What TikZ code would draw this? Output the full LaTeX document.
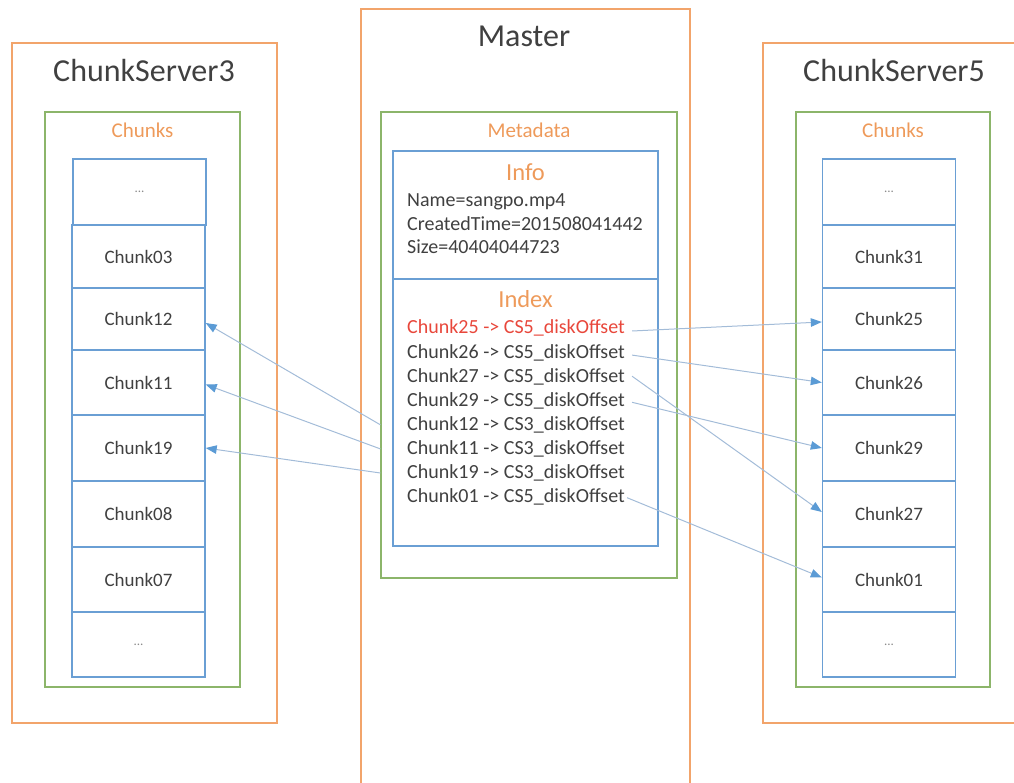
\documentclass[tikz,border=0pt]{standalone}
\usepackage{fontspec}
\setmainfont{Carlito}
\usetikzlibrary{arrows.meta,calc}
\definecolor{orangeLine}{HTML}{F2A46B}
\definecolor{greenLine}{HTML}{8CB56A}
\definecolor{blueLine}{HTML}{6A9FD4}
\definecolor{labelOrange}{HTML}{EE9A5A}
\definecolor{textDark}{HTML}{404040}
\definecolor{redText}{HTML}{E8473B}
\definecolor{arrowLine}{HTML}{A3BCD8}
\definecolor{arrowHead}{HTML}{5B9BD5}
\definecolor{dotGrey}{HTML}{8A8A8A}
\tikzset{
  outerbox/.style={draw=orangeLine, line width=1.3pt, inner sep=0pt},
  greenbox/.style={draw=greenLine, line width=1.3pt, inner sep=0pt},
  bluebox/.style={draw=blueLine, line width=1.4pt, inner sep=0pt},
  chunkbox/.style={draw=blueLine, line width=1.4pt, inner sep=0pt, minimum width=133pt, text=textDark, font=\fontsize{19}{21}\selectfont},
  dotsbox/.style={chunkbox, text=dotGrey, font=\fontsize{13}{14}\selectfont},
  titletext/.style={anchor=base, text=textDark, font=\fontsize{32}{36}\selectfont, inner sep=0pt},
  sublabel/.style={anchor=base, text=labelOrange, font=\fontsize{21}{23}\selectfont, inner sep=0pt},
  headlabel/.style={anchor=base, text=labelOrange, font=\fontsize{24.5}{26}\selectfont, inner sep=0pt},
  linetext/.style={anchor=base west, text=textDark, font=\fontsize{20}{22}\selectfont, inner sep=0pt},
  link/.style={draw=arrowLine, line width=1pt, -{Triangle[length=11pt,width=8.5pt,color=arrowHead]}}
}
\begin{document}
\begin{tikzpicture}[x=1pt,y=-1pt]
\useasboundingbox (0,0) rectangle (1014,783);
% outer boxes
\node[outerbox, minimum width=265pt, minimum height=680pt] (cs3) at (144.5,383) {};
\node[outerbox, minimum width=329pt, minimum height=791pt] (master) at (525.5,404.5) {};
\node[outerbox, minimum width=262pt, minimum height=680pt] (cs5) at (894,383) {};
% green boxes
\node[greenbox, minimum width=195pt, minimum height=575pt] (g3) at (142.5,399.5) {};
\node[greenbox, minimum width=296pt, minimum height=466pt] (mg) at (529,345) {};
\node[greenbox, minimum width=194pt, minimum height=575pt] (g5) at (893,399.5) {};
% master blue boxes
\node[bluebox, minimum width=265pt, minimum height=128pt] (info) at (525.5,215) {};
\node[bluebox, minimum width=265pt, minimum height=267pt] (index) at (525.5,412.5) {};
% titles
\node[titletext] (t3) at (144,82) {ChunkServer3};
\node[titletext] (tm) at (524,47) {Master};
\node[titletext] (t5) at (894,82) {ChunkServer5};
\node[sublabel] (ch3) at (142.5,138) {Chunks};
\node[sublabel] (meta) at (529,138) {Metadata};
\node[sublabel] (ch5) at (893,138) {Chunks};
\node[headlabel] (infot) at (525.5,181) {Info};
\node[headlabel] (indext) at (525.5,308) {Index};
% info lines
\node[linetext] (i1) at (407,207) {Name=sangpo.mp4};
\node[linetext] (i2) at (407,231) {CreatedTime=201508041442};
\node[linetext] (i3) at (407,254) {Size=40404044723};
% index lines
\node[linetext, text=redText] (l1) at (407,334) {Chunk25 -> CS5\_diskOffset};
\node[linetext] (l2) at (407,358.1) {Chunk26 -> CS5\_diskOffset};
\node[linetext] (l3) at (407,382.2) {Chunk27 -> CS5\_diskOffset};
\node[linetext] (l4) at (407,406.3) {Chunk29 -> CS5\_diskOffset};
\node[linetext] (l5) at (407,430.4) {Chunk12 -> CS3\_diskOffset};
\node[linetext] (l6) at (407,454.5) {Chunk11 -> CS3\_diskOffset};
\node[linetext] (l7) at (407,478.6) {Chunk19 -> CS3\_diskOffset};
\node[linetext] (l8) at (407,502.7) {Chunk01 -> CS5\_diskOffset};
% left chunk column
\node[dotsbox, minimum height=66pt] (a1) at (139.5,192) {...};
\node[chunkbox, minimum height=63pt] (a2) at (138.5,256.5) {Chunk03};
\node[chunkbox, minimum height=62pt] (a3) at (138.5,319) {Chunk12};
\node[chunkbox, minimum height=65pt] (a4) at (138.5,382.5) {Chunk11};
\node[chunkbox, minimum height=66pt] (a5) at (138.5,448) {Chunk19};
\node[chunkbox, minimum height=66pt] (a6) at (138.5,514) {Chunk08};
\node[chunkbox, minimum height=65pt] (a7) at (138.5,579.5) {Chunk07};
\node[dotsbox, minimum height=65pt] (a8) at (138.5,644.5) {...};
% right chunk column
\node[dotsbox, minimum height=66pt] (b1) at (889,192) {...};
\node[chunkbox, minimum height=63pt] (b2) at (889,256.5) {Chunk31};
\node[chunkbox, minimum height=62pt] (b3) at (889,319) {Chunk25};
\node[chunkbox, minimum height=65pt] (b4) at (889,382.5) {Chunk26};
\node[chunkbox, minimum height=66pt] (b5) at (889,448) {Chunk29};
\node[chunkbox, minimum height=66pt] (b6) at (889,514) {Chunk27};
\node[chunkbox, minimum height=65pt] (b7) at (889,579.5) {Chunk01};
\node[dotsbox, minimum height=65pt] (b8) at (889,644.5) {...};
% connectors to ChunkServer5
\draw[link] ([xshift=7pt,yshift=3pt]l1.base east) -- ([yshift=-3pt]b3.west);
\draw[link] ([xshift=7pt,yshift=3pt]l2.base east) -- (b4.west);
\draw[link] ([xshift=7pt,yshift=6pt]l3.base east) -- ([yshift=2pt]b6.west);
\draw[link] ([xshift=7pt,yshift=4pt]l4.base east) -- (b5.west);
\draw[link] ([xshift=2pt,yshift=5pt]l8.base east) -- ([yshift=2pt]b7.west);
% connectors to ChunkServer3
\draw[link] (mg.west |- l5.center) -- ([yshift=-4pt]a3.east);
\draw[link] (mg.west |- l6.center) -- ([yshift=-2pt]a4.east);
\draw[link] (mg.west |- l7.center) -- (a5.east);
\end{tikzpicture}
\end{document}
